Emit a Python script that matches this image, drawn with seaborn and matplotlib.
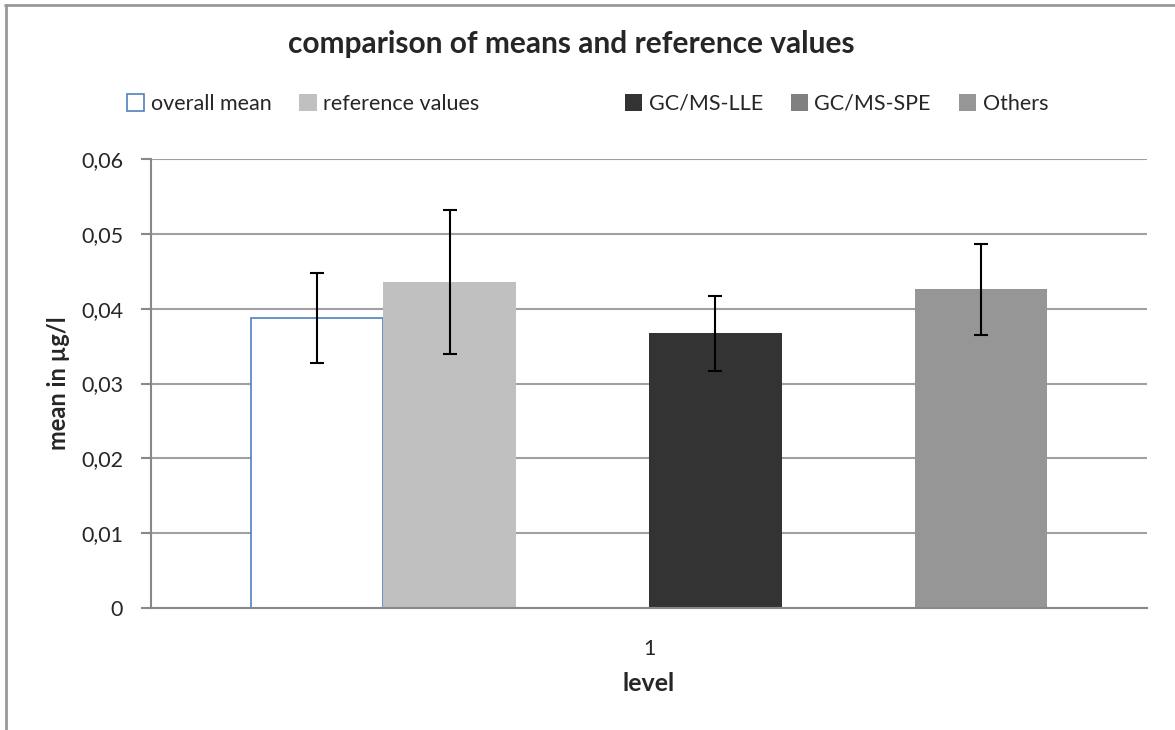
import numpy as np
import pandas as pd
import matplotlib
matplotlib.use('Agg')
import matplotlib.pyplot as plt
from matplotlib.patches import Patch
from matplotlib.lines import Line2D
from matplotlib.ticker import FuncFormatter, FixedLocator
import seaborn as sns

# data (one level, several methods)
series = ['overall mean', 'reference values', ' ', 'GC/MS-LLE', 'GC/MS-SPE', 'Others']
means = [0.0387, 0.0436, np.nan, 0.0367, np.nan, 0.0426]
errors = [0.0060, 0.0096, np.nan, 0.0050, np.nan, 0.0061]
levels = ['1'] * len(series)
colors = ['#FFFFFF', '#C0C0C0', '#FFFFFF', '#333333', '#808080', '#969696']

df = pd.DataFrame({'level': levels, 'series': series, 'mean': means, 'err': errors})

sns.set_style('white')
plt.rcParams['font.family'] = ['Lato', 'DejaVu Sans']

fig = plt.figure(figsize=(11.75, 7.3), dpi=100)
ax = fig.add_axes([151 / 1175, 1 - 608 / 730, (1147 - 151) / 1175, (608 - 159) / 730])

sns.barplot(data=df.dropna(), x='level', y='mean', hue='series', hue_order=series,
            palette=dict(zip(series, colors)), saturation=1, width=0.8,
            errorbar=None, legend=False, ax=ax, zorder=2)

# error bars and edge of the white bar
for bar in ax.patches:
    h = bar.get_height()
    i = int(np.nanargmin(np.abs(np.array(means) - h)))
    if series[i] == 'overall mean':
        bar.set_edgecolor('#4F81BD')
        bar.set_linewidth(1.2)
    else:
        bar.set_edgecolor('none')
    ax.errorbar(bar.get_x() + bar.get_width() / 2, h, yerr=errors[i], fmt='none',
                ecolor='black', elinewidth=1.5, capsize=5, capthick=1.5, zorder=3)

ax.set_xlim(-0.5, 0.5)
ax.set_ylim(0, 0.06)
ax.set_yticks(np.arange(0, 0.061, 0.01))
ax.yaxis.set_major_formatter(FuncFormatter(lambda v, p: '0' if v == 0 else f'{v:.2f}'.replace('.', ',')))
ax.yaxis.grid(True, color='#A0A0A0', linewidth=1.5, zorder=0)
ax.set_axisbelow(True)
ax.xaxis.set_minor_locator(FixedLocator([-0.5, 0.5]))
ax.tick_params(axis='x', which='major', length=0, labelsize=15.5, pad=22)
ax.tick_params(axis='x', which='minor', length=7, width=1.5, color='#888888')
ax.tick_params(axis='y', length=7, width=1.5, color='#888888', labelsize=15.5, pad=13, left=True)

for s in ['top', 'right']:
    ax.spines[s].set_visible(False)
for s in ['left', 'bottom']:
    ax.spines[s].set_color('#888888')
    ax.spines[s].set_linewidth(1.5)

ax.set_xlabel('level', fontsize=18, fontweight='bold', labelpad=10)
ax.set_ylabel('mean in µg/l', fontsize=17, fontweight='bold', labelpad=8)

fig.text(571 / 1175, 1 - 44 / 730, 'comparison of means and reference values',
         ha='center', va='center', fontsize=21.5, fontweight='bold')

# legend with a blank slot like the original
handles = []
for name, c in zip(series, colors):
    if name == ' ':
        handles.append(Line2D([], [], linestyle='none'))
    elif name == 'overall mean':
        handles.append(Patch(facecolor=c, edgecolor='#4F81BD', linewidth=1.2))
    else:
        handles.append(Patch(facecolor=c, edgecolor='none'))
labels = [s if s != ' ' else ' ' * 12 for s in series]
fig.legend(handles, labels, loc='center', bbox_to_anchor=(0.5, 1 - 104 / 730), ncol=6,
           frameon=False, fontsize=15.5, handlelength=0.8, handleheight=0.8,
           handletextpad=0.3, columnspacing=1.3)

# outer chart border
fig.add_artist(Line2D([5 / 1175, 1], [1 - 5 / 730, 1 - 5 / 730], color='#999999', linewidth=2, transform=fig.transFigure))
fig.add_artist(Line2D([6 / 1175, 6 / 1175], [0, 1 - 5 / 730], color='#999999', linewidth=2, transform=fig.transFigure))

fig.savefig('out.png', dpi=100)
